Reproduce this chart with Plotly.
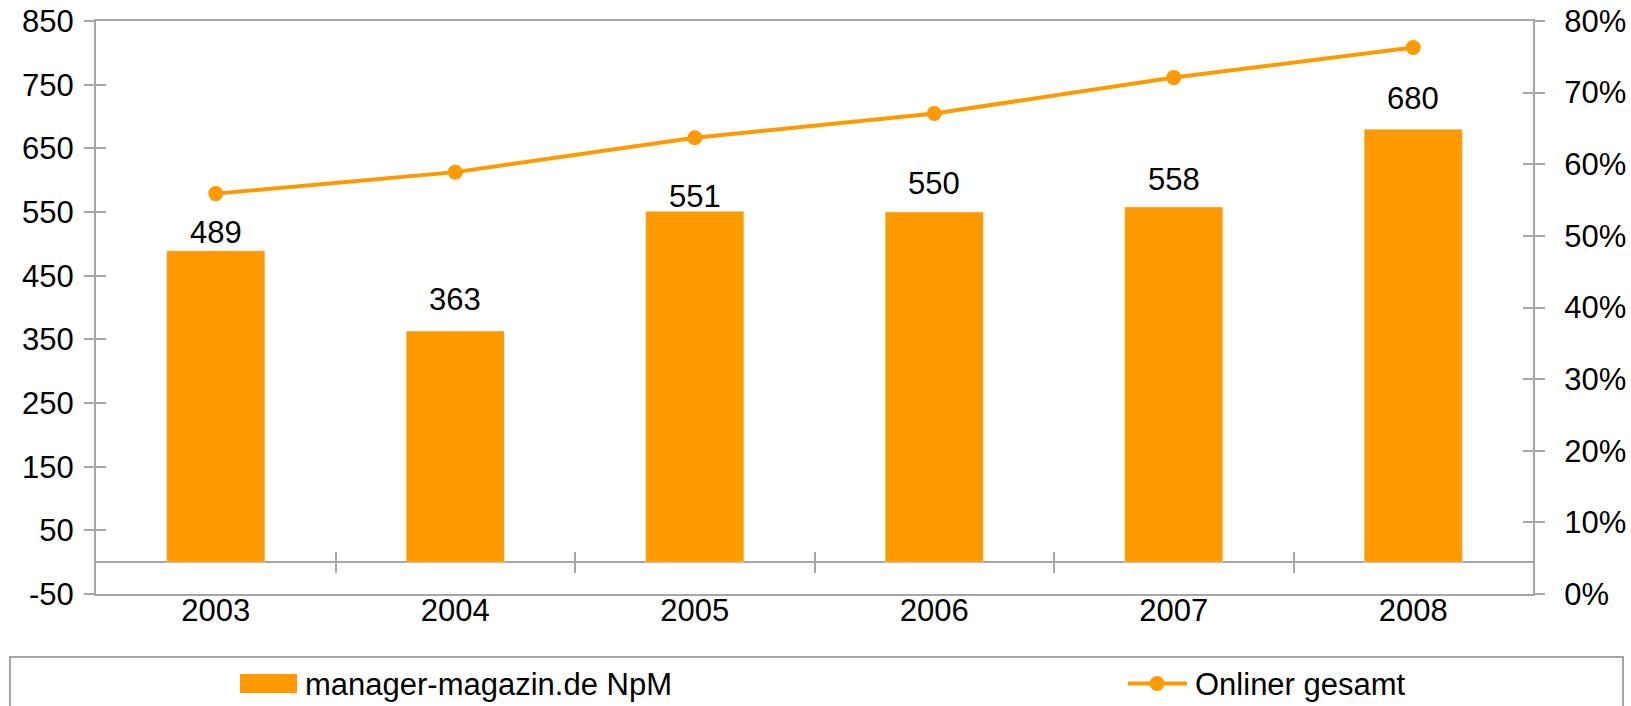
import plotly.graph_objects as go

# ---- data ----
years = ["2003", "2004", "2005", "2006", "2007", "2008"]
npm_values = [489, 363, 551, 550, 558, 680]
onliner_pct = [55.9, 58.9, 63.7, 67.1, 72.1, 76.3]
left_tick_vals = [-50, 50, 150, 250, 350, 450, 550, 650, 750, 850]
left_tick_text = ["-50", "50", "150", "250", "350", "450", "550", "650", "750", "850"]
right_tick_vals = [0, 10, 20, 30, 40, 50, 60, 70, 80]
right_tick_text = ["0%", "10%", "20%", "30%", "40%", "50%", "60%", "70%", "80%"]
bar_name = "manager-magazin.de NpM"
line_name = "Onliner gesamt"

# ---- style ----
W, H = 1631, 706
ML, MR, MT, MB = 96, 98, 21, 112
ORANGE = "#FF9900"
GRAY = "#A6A6A6"
FONT = "Liberation Sans, Arial, sans-serif"
FS = 31
PW = W - ML - MR
PH = H - MT - MB
label_gap_px = [7, 20, 3, 17, 16, 19]  # visible gap between bar top and its value label
LABEL_BOX_PAD = 8  # annotation box extends below the glyphs by about this much


def px_x(p):
    return (p - ML) / PW


def px_y(p):
    return (H - MB - p) / PH


n = len(years)
boundary_ticks = [i + 0.5 for i in range(n - 1)]

fig = go.Figure()
fig.add_trace(go.Bar(
    x=years, y=npm_values, name=bar_name, marker_color=ORANGE,
    showlegend=False, hoverinfo="x+y",
))
fig.add_trace(go.Scatter(
    x=years, y=onliner_pct, name=line_name, yaxis="y2", mode="lines+markers",
    line=dict(color=ORANGE, width=4), marker=dict(size=15, color=ORANGE),
    showlegend=False,
))
# empty helper traces so the overlay tick axes get drawn (crossing tick marks)
for xa, ya in [("x2", "y"), ("x3", "y"), ("x", "y3"), ("x", "y4")]:
    fig.add_trace(go.Scatter(x=[], y=[], xaxis=xa, yaxis=ya, showlegend=False,
                             hoverinfo="skip", mode="markers"))

tickfont = dict(family=FONT, size=FS, color="black")
zero_pos = 50 / 900
common_hidden = dict(showticklabels=False, showline=False, showgrid=False,
                     zeroline=False, automargin=False)
fig.update_layout(
    width=W, height=H,
    margin=dict(l=ML, r=MR, t=MT, b=MB, pad=0, autoexpand=False),
    paper_bgcolor="white", plot_bgcolor="white",
    bargap=0.59,
    showlegend=False,
    xaxis=dict(
        type="category", showline=True, linecolor=GRAY, linewidth=2, mirror=True,
        ticks="", showgrid=False, tickfont=tickfont, range=[-0.5, n - 0.5],
        automargin=False, ticklabelstandoff=-12,
    ),
    xaxis2=dict(
        overlaying="x", anchor="free", position=zero_pos,
        type="linear", range=[-0.5, n - 0.5], tickmode="array", tickvals=boundary_ticks,
        ticks="outside", ticklen=10, tickwidth=2, tickcolor=GRAY, **common_hidden,
    ),
    xaxis3=dict(
        overlaying="x", anchor="free", position=zero_pos,
        type="linear", range=[-0.5, n - 0.5], tickmode="array", tickvals=boundary_ticks,
        ticks="inside", ticklen=10, tickwidth=2, tickcolor=GRAY, **common_hidden,
    ),
    yaxis=dict(
        range=[-50, 850], tickmode="array", tickvals=left_tick_vals, ticktext=left_tick_text,
        showline=True, linecolor=GRAY, linewidth=2, ticks="outside", ticklen=10,
        tickwidth=2, tickcolor=GRAY, showgrid=False, zeroline=True,
        zerolinecolor=GRAY, zerolinewidth=2, tickfont=tickfont,
        automargin=False, ticklabelstandoff=4,
    ),
    yaxis2=dict(
        range=[0, 80], overlaying="y", side="right", anchor="x", tickmode="array",
        tickvals=right_tick_vals, ticktext=right_tick_text,
        showline=True, linecolor=GRAY, linewidth=2, ticks="outside", ticklen=10,
        tickwidth=2, tickcolor=GRAY, showgrid=False, zeroline=False, tickfont=tickfont,
        automargin=False, ticklabelstandoff=13,
    ),
    yaxis3=dict(
        range=[-50, 850], overlaying="y", side="left", anchor="x", tickmode="array",
        tickvals=left_tick_vals, ticks="inside", ticklen=10, tickwidth=2, tickcolor=GRAY,
        **common_hidden,
    ),
    yaxis4=dict(
        range=[0, 80], overlaying="y", side="right", anchor="x", tickmode="array",
        tickvals=right_tick_vals, ticks="inside", ticklen=10, tickwidth=2, tickcolor=GRAY,
        **common_hidden,
    ),
)

# ---- value labels above bars (x given as category index) ----
annotations = [
    dict(x=i, y=v, xref="x", yref="y", text=str(v), showarrow=False,
         xanchor="center", yanchor="bottom", yshift=gap - LABEL_BOX_PAD,
         font=dict(family=FONT, size=FS, color="black"))
    for i, (v, gap) in enumerate(zip(npm_values, label_gap_px))
]

# ---- custom legend (box, swatches, labels) ----
shapes = [
    dict(type="rect", xref="paper", yref="paper",
         x0=px_x(10), x1=px_x(1623), y0=px_y(657), y1=px_y(730),
         line=dict(color=GRAY, width=2), fillcolor="rgba(0,0,0,0)", layer="below"),
    dict(type="rect", xref="paper", yref="paper",
         x0=px_x(240), x1=px_x(297), y0=px_y(674), y1=px_y(693),
         line=dict(width=0), fillcolor=ORANGE),
    dict(type="line", xref="paper", yref="paper",
         x0=px_x(1128), x1=px_x(1187), y0=px_y(683.5), y1=px_y(683.5),
         line=dict(color=ORANGE, width=4)),
    dict(type="circle", xref="paper", yref="paper", xsizemode="pixel", ysizemode="pixel",
         xanchor=px_x(1157), yanchor=px_y(683.5), x0=-7.5, x1=7.5, y0=-7.5, y1=7.5,
         line=dict(width=0), fillcolor=ORANGE),
]
annotations += [
    dict(xref="paper", yref="paper", x=px_x(303), y=px_y(684), text=bar_name,
         showarrow=False, xanchor="left", yanchor="middle",
         font=dict(family=FONT, size=FS, color="black")),
    dict(xref="paper", yref="paper", x=px_x(1193), y=px_y(684), text=line_name,
         showarrow=False, xanchor="left", yanchor="middle",
         font=dict(family=FONT, size=FS, color="black")),
]
fig.update_layout(shapes=shapes, annotations=annotations)

fig.write_html(
    "out.html",
    config={"displayModeBar": False},
    post_script="document.body.style.margin='0';document.body.style.overflow='hidden';",
)
